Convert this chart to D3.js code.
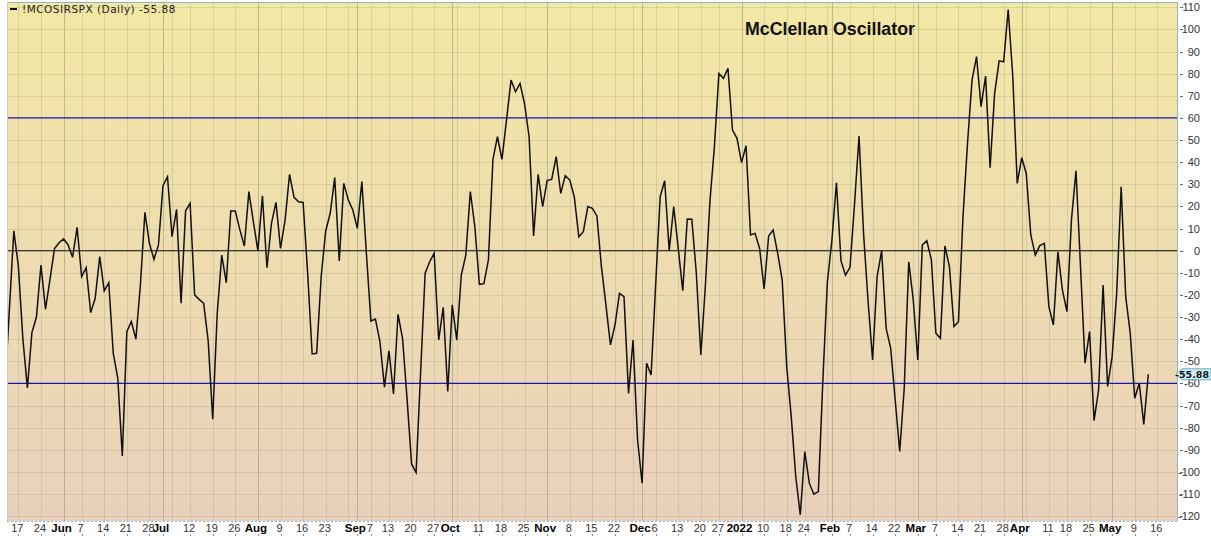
<!DOCTYPE html>
<html>
<head>
<meta charset="utf-8">
<script src="https://cdn.jsdelivr.net/npm/d3@7"></script>
<style>
  body { margin: 0; background: #fff; }
  svg { display: block; }
</style>
</head>
<body>
<div id="chart"></div>
<script>
// McClellan Oscillator ($NYSE breadth on SPX), daily, May 2021 - May 2022

const holidays = ["2021-05-31", "2021-07-05", "2021-09-06", "2021-11-25", "2021-12-24",
  "2022-01-17", "2022-02-21", "2022-04-15"];

// one value per trading day, starting 2021-05-12
const values = [
  -63, -27, 9, -7, -40, -62, -37, -30, -6.5, -26.5,
  -13, 1, 3.6, 5.3, 2.6, -3, 10.5, -11.7, -7.7, -28,
  -21.5, -2.7, -18.2, -14.5, -46.4, -57.7, -92.8, -36.6, -32, -40,
  -15.5, 17.3, 3.3, -3.9, 2.6, 29.4, 33.4, 6.3, 18.7, -23.8,
  18, 21.4, -20, -22, -23.8, -40.7, -76.2, -28.3, -2, -14.5,
  17.9, 17.9, 9.5, 2.1, 26.7, 13, 0, 24.8, -7.7, 12.3,
  21.8, 1, 13.6, 34.5, 24.1, 22.1, 21.8, -10, -46.7, -46.4,
  -11.7, 8.9, 16.9, 33, -4.7, 30.4, 22.9, 18.4, 10.1, 31.2,
  -1.2, -31.8, -30.9, -41.1, -61.7, -45.3, -64.8, -28.8, -39.6, -67,
  -96.4, -100.3, -55, -10.2, -5, -1.2, -40.4, -25.6, -63.7, -24.5,
  -40.4, -11, -2, 26.7, 10.8, -15.2, -14.9, -4.2, 41.3, 51.5,
  41.3, 59, 77.1, 71.8, 75.6, 66.3, 51.5, 6.6, 34.5, 19.9,
  31.8, 32.2, 42.5, 25.9, 33.9, 31.9, 24.4, 6.3, 8.6, 19.9,
  19.1, 15.7, -7.2, -24.5, -42.6, -33.6, -19.3, -20.8, -64.5, -40.4,
  -85.5, -105.1, -50.9, -56.2, -15.5, 24.4, 31.6, 0, 19.9, 1,
  -18.1, 14.3, 14.2, -10.2, -47.1, -16, 22, 47, 80.1, 77.9,
  82.4, 54.5, 50.8, 39.8, 47.4, 7.1, 7.8, 1, -17.3, 6.6,
  9.3, -1.2, -13.3, -52.4, -75, -102.1, -119.4, -90.8, -105.1, -110.1,
  -108.9, -58.4, -14, 4.8, 30.7, -4.5, -11.1, -7.5, 21, 51.8,
  7.8, -23, -49.4, -11.7, 0, -35.1, -44.1, -67.5, -90.8, -62.2,
  -5, -22.3, -49.4, 2.6, 4.5, -4.2, -37.3, -39.6, 2.1, -7.2,
  -34.3, -32.1, 15.4, 48.5, 77.1, 87.7, 65.1, 78.9, 37.5, 71.1,
  85.8, 85.4, 109, 79.4, 30.4, 42, 34.9, 7.1, -2, 2.3,
  3.3, -25.3, -33.6, -0.5, -17.8, -27.6, 13.9, 36.1, -7.2, -50.9,
  -36.6, -76.8, -63, -15.5, -61.4, -47.9, -19.3, 28.9, -20.8, -37.3,
  -66.7, -59.9, -78.5, -55.88
];

// x-axis labels (weekly ticks + month starts)
const tickDates = ["2021-05-17", "2021-05-24", "2021-06-01", "2021-06-07", "2021-06-14", "2021-06-21",
  "2021-06-28", "2021-07-01", "2021-07-12", "2021-07-19", "2021-07-26", "2021-08-02", "2021-08-09",
  "2021-08-16", "2021-08-23", "2021-09-01", "2021-09-07", "2021-09-13", "2021-09-20", "2021-09-27",
  "2021-10-01", "2021-10-11", "2021-10-18", "2021-10-25", "2021-11-01", "2021-11-08", "2021-11-15",
  "2021-11-22", "2021-12-01", "2021-12-06", "2021-12-13", "2021-12-20", "2021-12-27", "2022-01-03",
  "2022-01-10", "2022-01-18", "2022-01-24", "2022-02-01", "2022-02-07", "2022-02-14", "2022-02-22",
  "2022-03-01", "2022-03-07", "2022-03-14", "2022-03-21", "2022-03-28", "2022-04-01", "2022-04-11",
  "2022-04-18", "2022-04-25", "2022-05-02", "2022-05-09", "2022-05-16"];
const tickLabels = ["17", "24", "Jun", "7", "14", "21", "28", "Jul", "12", "19", "26", "Aug", "9",
  "16", "23", "Sep", "7", "13", "20", "27", "Oct", "11", "18", "25", "Nov", "8", "15", "22", "Dec",
  "6", "13", "20", "27", "2022", "10", "18", "24", "Feb", "7", "14", "22", "Mar", "7", "14", "21",
  "28", "Apr", "11", "18", "25", "May", "9", "16"];
// weekly grid lines also fall on these (label hidden, too close to month)
const gridOnlyDates = ["2021-07-06", "2021-08-30", "2021-10-04", "2021-11-29", "2022-01-31",
  "2022-02-28", "2022-04-04"];

const yTicks = d3.range(-120, 111, 10);
const bands = [60, -60];
const lastValue = -55.88;

// trading calendar
const fmt = d3.utcFormat("%Y-%m-%d");
const dates = d3.utcDay.range(new Date(Date.UTC(2021, 4, 12)), new Date(Date.UTC(2022, 4, 21)))
  .filter(d => d.getUTCDay() !== 0 && d.getUTCDay() !== 6 && !holidays.includes(fmt(d)))
  .map(fmt);
const idx = {};
dates.forEach((d, i) => idx[d] = i);

const W = 1211, H = 536;
const plot = { left: 7, right: 1177, top: 2, bottom: 521 };

const x = d3.scaleLinear().domain([0, values.length - 1]).range([4.8, 1148.3]);
const y = d3.scaleLinear().domain([-122.2, 112.4]).range([plot.bottom, plot.top]);

const svg = d3.select("#chart").append("svg").attr("width", W).attr("height", H);
const defs = svg.append("defs");

const grad = defs.append("linearGradient").attr("id", "bg")
  .attr("x1", 0).attr("y1", 0).attr("x2", 0).attr("y2", 1);
grad.append("stop").attr("offset", "0%").attr("stop-color", "#f3e8a4");
grad.append("stop").attr("offset", "50%").attr("stop-color", "#eedcb0");
grad.append("stop").attr("offset", "100%").attr("stop-color", "#ead0bc");

defs.append("clipPath").attr("id", "clip").append("rect")
  .attr("x", plot.left).attr("y", plot.top)
  .attr("width", plot.right - plot.left).attr("height", plot.bottom - plot.top);

svg.append("rect")
  .attr("x", plot.left).attr("y", plot.top)
  .attr("width", plot.right - plot.left).attr("height", plot.bottom - plot.top)
  .attr("fill", "url(#bg)");

// grid
const grid = svg.append("g");
grid.selectAll(".hg").data(yTicks).join("line")
  .attr("x1", plot.left).attr("x2", plot.right)
  .attr("y1", d => Math.round(y(d)) + 0.5).attr("y2", d => Math.round(y(d)) + 0.5)
  .attr("stroke", "#9aa37a").attr("stroke-opacity", 0.28);

const monthLabels = ["Jun", "Jul", "Aug", "Sep", "Oct", "Nov", "Dec", "2022", "Feb", "Mar", "Apr", "May"];
const vlines = tickDates.map((d, i) => ({ d: d, month: monthLabels.includes(tickLabels[i]) }))
  .concat(gridOnlyDates.map(d => ({ d: d, month: false })));
grid.selectAll(".vg").data(vlines).join("line")
  .attr("x1", d => Math.round(x(idx[d.d])) + 0.5).attr("x2", d => Math.round(x(idx[d.d])) + 0.5)
  .attr("y1", plot.top).attr("y2", plot.bottom)
  .attr("stroke", d => d.month ? "#7f9370" : "#9aa37a")
  .attr("stroke-opacity", d => d.month ? 0.5 : 0.3);

// reference lines
svg.append("line")
  .attr("x1", plot.left).attr("x2", plot.right)
  .attr("y1", y(0)).attr("y2", y(0))
  .attr("stroke", "#3c3c30").attr("stroke-width", 1.2);
svg.selectAll(".band").data(bands).join("line")
  .attr("x1", plot.left).attr("x2", plot.right)
  .attr("y1", d => y(d)).attr("y2", d => y(d))
  .attr("stroke", "#1818b0").attr("stroke-width", 1.1);

// oscillator line
const line = d3.line().x((d, i) => x(i)).y(d => y(d));
svg.append("path")
  .datum(values)
  .attr("clip-path", "url(#clip)")
  .attr("fill", "none")
  .attr("stroke", "#111")
  .attr("stroke-width", 1.5)
  .attr("stroke-linejoin", "miter")
  .attr("d", line);

// frame
svg.append("line").attr("x1", plot.left).attr("x2", plot.right).attr("y1", plot.top + 0.5).attr("y2", plot.top + 0.5)
  .attr("stroke", "#8fb6c6");
svg.append("line").attr("x1", plot.right + 0.5).attr("x2", plot.right + 0.5).attr("y1", plot.top).attr("y2", plot.bottom)
  .attr("stroke", "#8fb6c6");
svg.append("line").attr("x1", plot.left + 0.5).attr("x2", plot.left + 0.5).attr("y1", plot.top).attr("y2", plot.bottom)
  .attr("stroke", "#c4cdd0");
svg.append("line").attr("x1", plot.left).attr("x2", plot.right).attr("y1", plot.bottom + 0.5).attr("y2", plot.bottom + 0.5)
  .attr("stroke", "#8fb6c6").attr("stroke-dasharray", "2,2");

// right axis
const yAxis = svg.append("g");
yAxis.selectAll(".yt").data(yTicks).join("line")
  .attr("x1", plot.right + 3).attr("x2", plot.right + 6)
  .attr("y1", d => Math.round(y(d)) + 0.5).attr("y2", d => Math.round(y(d)) + 0.5)
  .attr("stroke", "#666");
yAxis.selectAll(".yl").data(yTicks).join("text")
  .attr("x", 1200).attr("y", d => y(d) + 4)
  .attr("text-anchor", "end")
  .style("font-family", "Liberation Sans, Arial, sans-serif")
  .style("font-size", "11px")
  .style("fill", "#333")
  .text(d => d);

// last value tag
const ty = y(lastValue);
svg.append("path")
  .attr("d", `M${plot.right - 1},${ty} L${plot.right + 5},${ty - 5.5} H1211 V${ty + 5.5} H${plot.right + 5} Z`)
  .attr("fill", "#cdf1f7").attr("stroke", "#6aaabb");
svg.append("text")
  .attr("x", 1209).attr("y", ty + 3.5)
  .attr("text-anchor", "end")
  .style("font-family", "DejaVu Sans, Verdana, sans-serif")
  .style("font-size", "9.5px")
  .style("font-weight", "bold")
  .style("fill", "#111")
  .text(lastValue.toFixed(2));

// bottom axis
const isMonth = i => monthLabels.includes(tickLabels[i]);
const xAxis = svg.append("g");
xAxis.selectAll(".xt").data(tickDates).join("line")
  .attr("x1", d => Math.round(x(idx[d])) + 0.5).attr("x2", d => Math.round(x(idx[d])) + 0.5)
  .attr("y1", 534).attr("y2", 536)
  .attr("stroke", "#888");
xAxis.selectAll(".xl").data(tickDates).join("text")
  .attr("x", (d, i) => x(idx[d]) + (isMonth(i) ? -2 : -1))
  .attr("y", 532)
  .attr("text-anchor", "middle")
  .style("font-family", "Liberation Sans, Arial, sans-serif")
  .style("font-size", (d, i) => isMonth(i) ? "11.5px" : "11px")
  .style("font-weight", (d, i) => isMonth(i) ? "bold" : "normal")
  .style("fill", (d, i) => isMonth(i) ? "#000" : "#333")
  .text((d, i) => tickLabels[i]);

// legend
svg.append("line")
  .attr("x1", 10).attr("x2", 17).attr("y1", 9).attr("y2", 9)
  .attr("stroke", "#000").attr("stroke-width", 2);
svg.append("text")
  .attr("x", 22).attr("y", 12.5)
  .style("font-family", "DejaVu Sans, Verdana, sans-serif")
  .style("font-size", "10.5px")
  .style("letter-spacing", "0.5px")
  .style("fill", "#222")
  .text("!MCOSIRSPX (Daily) " + lastValue.toFixed(2));

// title
svg.append("text")
  .attr("x", 745).attr("y", 35)
  .style("font-family", "Liberation Sans, Arial, sans-serif")
  .style("font-size", "17.8px")
  .style("font-weight", "bold")
  .style("fill", "#111")
  .text("McClellan Oscillator");
</script>
</body>
</html>
